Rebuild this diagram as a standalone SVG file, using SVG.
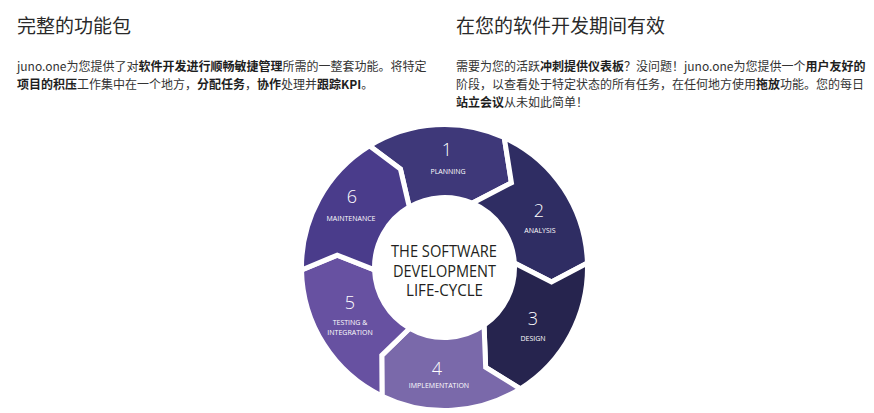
<svg xmlns="http://www.w3.org/2000/svg" width="874" height="413" viewBox="0 0 874 413">
<style>
.title{font-family:"Noto Sans CJK SC","Noto Sans",sans-serif;font-size:19px;fill:#2a2a2a}
.body{font-family:"Noto Sans CJK SC","Noto Sans",sans-serif;font-size:12px;fill:#333}
.b{font-weight:bold;fill:#1e1e1e}
.seg{stroke:#fff;stroke-width:5;stroke-linejoin:miter}
.num{font-family:"Open Sans","Noto Sans",sans-serif;font-weight:300;font-size:18px;fill:#fff;text-anchor:middle}
.lbl{font-family:"Open Sans","Noto Sans",sans-serif;font-size:7px;fill:#fff;text-anchor:middle}
.ctr{font-family:"Open Sans","Noto Sans",sans-serif;font-size:16px;fill:#231f20;text-anchor:middle}
</style>
<rect width="874" height="413" fill="#fff"/>
<g id="left-column">
<text class="title" x="17" y="33">完整的功能包</text>
<text class="body" x="17" y="71">juno.one为您提供了对<tspan class="b">软件开发进行顺畅敏捷管理</tspan>所需的一整套功能。将特定</text>
<text class="body" x="17" y="89"><tspan class="b">项目的积压</tspan>工作集中在一个地方，<tspan class="b">分配任务</tspan>，<tspan class="b">协作</tspan>处理并<tspan class="b">跟踪KPI</tspan>。</text>
</g>
<g id="right-column">
<text class="title" x="456" y="33">在您的软件开发期间有效</text>
<text class="body" x="456" y="71">需要为您的活跃<tspan class="b">冲刺提供仪表板</tspan>？没问题！juno.one为您提供一个<tspan class="b">用户友好的</tspan></text>
<text class="body" x="456" y="89">阶段，以查看处于特定状态的所有任务，在任何地方使用<tspan class="b">拖放</tspan>功能。您的每日</text>
<text class="body" x="456" y="107"><tspan class="b">站立会议</tspan>从未如此简单！</text>
</g>
<g id="connectors"></g>
<g id="seg1">
<path class="seg" fill="#3e3879" d="M409.29,207.00 L400.40,168.92 L369.35,145.84 A143,143 0 0 1 504.26,137.58 L511.44,182.74 L472.07,203.16 A70,70 0 0 0 409.29,207.00 Z"/>
<text class="num" x="447" y="156">1</text>
<text class="lbl" x="448" y="174">PLANNING</text>
</g>
<g id="seg2">
<path class="seg" fill="#2f2d63" d="M472.07,203.16 L511.44,182.74 L504.26,137.58 A143,143 0 0 1 587.43,263.01 L551.53,281.97 L514.36,263.10 A70,70 0 0 0 472.07,203.16 Z"/>
<text class="num" x="539" y="217">2</text>
<text class="lbl" x="540" y="233">ANALYSIS</text>
</g>
<g id="seg3">
<path class="seg" fill="#26244e" d="M514.36,263.10 L551.53,281.97 L587.43,263.01 A143,143 0 0 1 520.28,388.77 L485.66,367.35 L484.05,325.26 A70,70 0 0 0 514.36,263.10 Z"/>
<text class="num" x="533" y="325">3</text>
<text class="lbl" x="533" y="341">DESIGN</text>
</g>
<g id="seg4">
<path class="seg" fill="#7a69aa" d="M484.05,325.26 L485.66,367.35 L520.28,388.77 A143,143 0 0 1 382.04,396.14 L381.78,355.42 L409.71,328.25 A70,70 0 0 0 484.05,325.26 Z"/>
<text class="num" x="437" y="375">4</text>
<text class="lbl" x="439" y="388">IMPLEMENTATION</text>
</g>
<g id="seg5">
<path class="seg" fill="#6751a1" d="M409.71,328.25 L381.78,355.42 L382.04,396.14 A143,143 0 0 1 301.52,270.00 L337.22,255.09 L374.54,269.94 A70,70 0 0 0 409.71,328.25 Z"/>
<text class="num" x="350" y="309">5</text>
<text class="lbl" x="350" y="325">TESTING &amp;</text>
<text class="lbl" x="350" y="335">INTEGRATION</text>
</g>
<g id="seg6">
<path class="seg" fill="#4a3c8b" d="M374.54,269.94 L337.22,255.09 L301.52,270.00 A143,143 0 0 1 369.35,145.84 L400.40,168.92 L409.29,207.00 A70,70 0 0 0 374.54,269.94 Z"/>
<text class="num" x="352" y="203">6</text>
<text class="lbl" x="351" y="221">MAINTENANCE</text>
</g>
<g id="center">
<circle cx="444.5" cy="267.5" r="70" fill="#fff"/>
<text class="ctr"><tspan x="444" y="257" textLength="106" lengthAdjust="spacingAndGlyphs">THE SOFTWARE</tspan><tspan x="444.5" y="277" textLength="103" lengthAdjust="spacingAndGlyphs">DEVELOPMENT</tspan><tspan x="444.5" y="296" textLength="77" lengthAdjust="spacingAndGlyphs">LIFE-CYCLE</tspan></text>
</g>
</svg>
